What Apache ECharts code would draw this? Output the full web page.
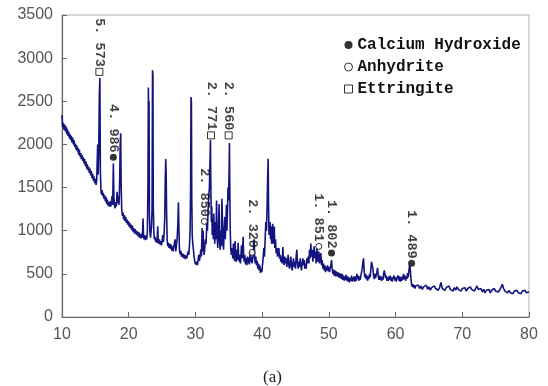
<!DOCTYPE html>
<html><head><meta charset="utf-8">
<script src="https://cdn.jsdelivr.net/npm/echarts/dist/echarts.min.js"></script>
<style>html,body{margin:0;padding:0;background:#fff}#c{width:548px;height:386px}</style>
</head><body><div id="c"></div>
<script>
// 2-theta (deg) / intensity (counts)
const pattern = [
[10.0,2340],[10.1,2200],[10.2,2250],[10.3,2170],[10.4,2230],[10.5,2150],[10.6,2210],[10.7,2120],[10.8,2180],[10.9,2100],
[11.0,2150],[11.1,2070],[11.2,2120],[11.3,2050],[11.4,2100],[11.5,2020],[11.6,2080],[11.7,2000],[11.8,2050],[11.9,1970],
[12.0,2010],[12.1,1940],[12.2,1990],[12.3,1920],[12.4,1960],[12.5,1880],[12.6,1940],[12.7,1860],[12.8,1900],[12.9,1830],
[13.0,1880],[13.1,1810],[13.2,1850],[13.3,1780],[13.4,1830],[13.5,1750],[13.6,1800],[13.7,1720],[13.8,1770],[13.9,1700],
[14.0,1740],[14.1,1670],[14.2,1720],[14.3,1640],[14.4,1690],[14.5,1610],[14.6,1660],[14.7,1580],[14.8,1630],[14.9,1550],
[15.0,1600],[15.1,1530],[15.2,1580],[15.3,1560],[15.35,2000],[15.42,1650],[15.5,1900],[15.6,2600],[15.68,2770],[15.75,1700],
[15.82,1500],[15.9,1420],[16.0,1470],[16.1,1400],[16.2,1440],[16.3,1370],[16.4,1410],[16.5,1340],[16.6,1390],[16.7,1310],
[16.8,1360],[16.9,1290],[17.0,1330],[17.1,1280],[17.2,1340],[17.3,1280],[17.4,1320],[17.5,1400],[17.6,1300],[17.7,1780],
[17.78,1400],[17.85,1300],[17.95,1260],[18.05,1330],[18.15,1280],[18.25,1450],[18.35,1320],[18.45,1400],[18.55,1300],[18.65,1600],
[18.72,2000],[18.8,2130],[18.87,1500],[18.95,1250],[19.05,1170],[19.15,1210],[19.25,1130],[19.35,1180],[19.45,1110],[19.55,1160],
[19.65,1090],[19.75,1130],[19.85,1070],[19.95,1110],[20.05,1050],[20.15,1090],[20.25,1030],[20.35,1070],[20.45,1010],[20.55,1060],
[20.65,990],[20.75,1030],[20.85,970],[20.95,1020],[21.05,960],[21.15,1000],[21.25,950],[21.35,990],[21.45,930],[21.55,980],
[21.65,920],[21.75,960],[21.85,910],[21.95,970],[22.05,920],[22.15,1140],[22.22,940],[22.3,900],[22.4,950],[22.5,890],
[22.6,940],[22.7,900],[22.8,1000],[22.88,1500],[22.95,2660],[23.0,2200],[23.05,2500],[23.1,1200],[23.18,980],[23.26,920],
[23.34,980],[23.42,1050],[23.5,1250],[23.57,2860],[23.63,2800],[23.68,1300],[23.76,1000],[23.85,900],[23.95,930],[24.05,870],
[24.15,910],[24.25,860],[24.35,1050],[24.42,880],[24.5,850],[24.6,900],[24.7,840],[24.8,880],[24.9,830],[25.0,870],
[25.1,950],[25.2,870],[25.3,960],[25.4,1150],[25.48,1600],[25.55,1830],[25.62,1650],[25.68,1200],[25.76,900],[25.85,820],
[25.95,860],[26.05,800],[26.15,850],[26.25,790],[26.35,840],[26.45,770],[26.55,820],[26.65,760],[26.75,810],[26.85,800],
[26.95,900],[27.05,760],[27.15,830],[27.25,900],[27.35,1050],[27.45,1330],[27.52,1050],[27.6,780],[27.7,730],[27.8,770],
[27.9,700],[28.0,740],[28.1,690],[28.2,730],[28.3,680],[28.4,720],[28.5,670],[28.6,710],[28.7,680],[28.8,720],
[28.9,760],[29.0,720],[29.1,820],[29.2,1000],[29.28,1500],[29.34,2550],[29.4,2480],[29.45,1400],[29.52,950],[29.6,850],
[29.7,780],[29.8,700],[29.9,650],[30.0,610],[30.1,590],[30.2,640],[30.3,600],[30.4,660],[30.5,720],[30.6,650],
[30.7,700],[30.8,780],[30.9,700],[31.0,1030],[31.07,760],[31.15,1000],[31.22,800],[31.3,720],[31.4,800],[31.5,900],
[31.6,850],[31.7,1100],[31.8,1000],[31.9,1250],[32.0,1400],[32.1,1500],[32.18,1800],[32.25,2050],[32.3,1600],[32.38,1100],
[32.45,1280],[32.52,950],[32.6,1150],[32.68,900],[32.75,1200],[32.82,1000],[32.9,850],[33.0,1100],[33.08,900],[33.17,1350],
[33.25,950],[33.35,800],[33.45,1000],[33.55,1310],[33.62,900],[33.7,780],[33.8,1000],[33.88,820],[33.97,1370],[34.05,1100],
[34.13,850],[34.22,780],[34.3,1000],[34.4,1160],[34.48,900],[34.56,1100],[34.65,1300],[34.72,1000],[34.8,1200],[34.88,1500],
[34.95,1350],[35.05,1700],[35.1,2015],[35.15,1500],[35.22,1000],[35.3,780],[35.4,720],[35.5,800],[35.6,680],[35.7,850],
[35.78,700],[35.87,650],[35.95,880],[36.03,690],[36.12,640],[36.2,780],[36.3,660],[36.4,860],[36.48,700],[36.57,640],
[36.65,720],[36.74,620],[36.82,700],[36.9,830],[36.98,680],[37.06,760],[37.15,930],[37.23,700],[37.32,640],[37.4,720],
[37.5,610],[37.6,680],[37.7,600],[37.8,700],[37.9,620],[38.0,690],[38.1,610],[38.2,760],[38.3,640],[38.4,700],
[38.5,620],[38.6,680],[38.7,760],[38.8,900],[38.88,700],[38.96,620],[39.05,700],[39.15,600],[39.25,650],[39.35,560],
[39.45,620],[39.55,540],[39.65,600],[39.75,510],[39.85,560],[39.95,520],[40.05,600],[40.15,680],[40.25,800],[40.35,700],
[40.45,900],[40.55,1100],[40.65,1000],[40.75,1300],[40.82,1600],[40.9,1835],[40.96,1300],[41.03,950],[41.1,1000],[41.18,1100],
[41.26,900],[41.34,1050],[41.42,850],[41.5,1000],[41.58,1080],[41.66,850],[41.74,1000],[41.82,1050],[41.9,800],[42.0,900],
[42.1,740],[42.2,800],[42.3,700],[42.4,760],[42.5,800],[42.6,680],[42.7,720],[42.8,640],[42.9,700],[43.0,620],
[43.1,810],[43.2,650],[43.3,600],[43.4,700],[43.5,620],[43.6,680],[43.7,580],[43.8,650],[43.9,720],[44.0,600],
[44.1,560],[44.2,640],[44.3,700],[44.4,580],[44.5,540],[44.6,620],[44.7,680],[44.8,580],[44.9,640],[45.0,560],
[45.1,700],[45.2,780],[45.3,620],[45.4,560],[45.5,640],[45.6,580],[45.7,680],[45.8,600],[45.9,540],[46.0,620],
[46.1,680],[46.2,600],[46.3,660],[46.4,560],[46.5,620],[46.6,560],[46.7,680],[46.8,620],[46.9,700],[47.0,620],
[47.1,780],[47.2,680],[47.3,850],[47.4,700],[47.5,780],[47.6,640],[47.7,740],[47.8,820],[47.9,680],[48.0,760],
[48.1,620],[48.2,800],[48.3,700],[48.4,640],[48.5,760],[48.6,620],[48.7,700],[48.8,740],[48.9,600],[49.0,660],
[49.1,560],[49.2,620],[49.3,540],[49.4,600],[49.5,520],[49.6,580],[49.7,540],[49.8,600],[49.9,530],[50.0,580],
[50.1,520],[50.2,570],[50.3,600],[50.4,660],[50.5,560],[50.6,500],[50.7,550],[50.8,480],[50.9,540],[51.0,470],
[51.1,530],[51.2,470],[51.3,520],[51.4,540],[51.5,460],[51.6,510],[51.7,450],[51.8,500],[51.9,440],[52.0,500],
[52.1,430],[52.2,480],[52.3,420],[52.4,470],[52.5,430],[52.6,490],[52.7,420],[52.8,470],[52.9,410],[53.0,460],
[53.1,400],[53.2,450],[53.3,420],[53.4,480],[53.5,410],[53.6,460],[53.7,420],[53.8,470],[53.9,410],[54.0,470],
[54.1,420],[54.2,500],[54.3,440],[54.4,480],[54.5,420],[54.6,470],[54.7,430],[54.8,480],[54.9,520],[55.0,560],
[55.1,640],[55.2,680],[55.3,520],[55.4,460],[55.5,500],[55.6,440],[55.7,480],[55.8,420],[55.9,470],[56.0,440],
[56.1,500],[56.2,460],[56.3,560],[56.4,640],[56.5,660],[56.6,560],[56.7,480],[56.8,440],[56.9,500],[57.0,450],
[57.1,490],[57.2,520],[57.3,570],[57.4,480],[57.5,430],[57.6,480],[57.7,430],[57.8,470],[57.9,420],[58.0,460],
[58.1,430],[58.2,490],[58.3,540],[58.4,500],[58.5,450],[58.6,480],[58.7,420],[58.8,460],[58.9,420],[59.0,470],
[59.1,430],[59.2,480],[59.3,420],[59.4,460],[59.5,410],[59.6,450],[59.7,430],[59.8,480],[59.9,420],[60.0,460],
[60.1,410],[60.2,450],[60.3,430],[60.4,480],[60.5,420],[60.6,470],[60.7,410],[60.8,460],[60.9,420],[61.0,470],
[61.1,430],[61.2,500],[61.3,440],[61.4,480],[61.5,420],[61.6,470],[61.7,440],[61.8,510],[61.9,460],[62.0,540],
[62.1,600],[62.2,560],[62.3,450],[62.4,380],[62.5,350],[62.6,380],[62.7,340],[62.8,370],[62.9,330],[63.0,360],
[63.2,340],[63.4,370],[63.6,330],[63.8,360],[64.0,320],[64.2,350],[64.4,330],[64.6,370],[64.8,320],[65.0,350],
[65.2,310],[65.4,340],[65.6,320],[65.8,360],[66.0,330],[66.2,350],[66.4,310],[66.6,340],[66.8,400],[67.0,330],
[67.2,350],[67.4,310],[67.6,340],[67.8,320],[68.0,360],[68.2,320],[68.4,340],[68.6,300],[68.8,340],[69.0,310],
[69.2,350],[69.4,320],[69.6,340],[69.8,300],[70.0,330],[70.2,310],[70.4,340],[70.6,300],[70.8,330],[71.0,310],
[71.2,350],[71.4,320],[71.6,340],[71.8,300],[72.0,330],[72.2,360],[72.4,320],[72.6,300],[72.8,330],[73.0,290],
[73.2,320],[73.4,280],[73.6,310],[73.8,290],[74.0,320],[74.2,280],[74.4,310],[74.6,290],[74.8,330],[75.0,300],
[75.2,320],[75.4,290],[75.6,310],[75.8,340],[76.0,380],[76.2,330],[76.4,300],[76.6,320],[76.8,280],[77.0,310],
[77.2,280],[77.4,300],[77.6,270],[77.8,300],[78.0,280],[78.2,310],[78.4,280],[78.6,300],[78.8,270],[79.0,300],
[79.2,280],[79.4,310],[79.6,280],[79.8,300],[80.0,290]
];

// Phase annotations: d-spacing label and marker position (2-theta, counts)
const calciumHydroxide = [
  {name:'4. 986', value:[17.7,1852]},
  {name:'1. 802', value:[50.4,741]},
  {name:'1. 489', value:[62.4,624]}
];
const anhydrite = [
  {name:'2. 850', value:[31.33,1108]},
  {name:'2. 320', value:[38.5,748]},
  {name:'1. 851', value:[48.5,818]}
];
const ettringite = [
  {name:'5. 573', value:[15.6,2841]},
  {name:'2. 771', value:[32.34,2105]},
  {name:'2. 560', value:[34.98,2105]}
];
const phaseNames = ['Calcium Hydroxide','Anhydrite','Ettringite'];
const xMin = 10, xMax = 80, xStep = 10;
const yMin = 0, yMax = 3500, yStep = 500;
const caption = '(a)';

const chart = echarts.init(document.getElementById('c'), null, {renderer:'canvas'});
const monoFont = '"Liberation Mono", "DejaVu Sans Mono", monospace';
const annLabel = {
  show:true, position:'top', distance:1, rotate:-90, align:'right', verticalAlign:'middle',
  formatter: p => p.name, fontFamily: monoFont, fontWeight:'bold', fontSize:13.5, color:'#111'
};
chart.setOption({
  animation:false,
  backgroundColor:'#fff',
  title:{text:caption, left:258, top:364, textStyle:{fontFamily:'"Liberation Serif", serif', fontSize:17, fontWeight:'normal', color:'#222'}},
  grid:{left:62, right:19, top:15, bottom:69, show:true, borderColor:'#b0b0b0', borderWidth:1},
  legend:{
    orient:'vertical', left:339, top:32, itemWidth:8, itemHeight:8, itemGap:6,
    textStyle:{fontFamily:monoFont, fontWeight:'bold', fontSize:16, color:'#111', lineHeight:15},
    data:[
      {name:phaseNames[0], icon:'circle', itemStyle:{color:'#000', borderWidth:0}},
      {name:phaseNames[1], icon:'circle', itemStyle:{color:'#fff', borderColor:'#000', borderWidth:1}},
      {name:phaseNames[2], icon:'rect', itemStyle:{color:'#fff', borderColor:'#000', borderWidth:1}}
    ]
  },
  xAxis:{type:'value', min:xMin, max:xMax, interval:xStep,
    axisLine:{lineStyle:{color:'#666', width:1.2}},
    axisTick:{inside:true, length:5, lineStyle:{color:'#666'}},
    axisLabel:{color:'#555', fontSize:16, fontFamily:'"Liberation Sans", Arial, sans-serif', margin:10, formatter: v => String(v)},
    splitLine:{show:false}},
  yAxis:{type:'value', min:yMin, max:yMax, interval:yStep,
    axisLine:{show:true, lineStyle:{color:'#666', width:1.2}},
    axisTick:{show:true, inside:true, length:5, lineStyle:{color:'#666'}},
    axisLabel:{color:'#555', fontSize:16, fontFamily:'"Liberation Sans", Arial, sans-serif', margin:9, formatter: v => String(v)},
    splitLine:{show:false}},
  series:[
    {type:'line', name:'XRD', data:pattern, symbol:'none', sampling:'none',
     lineStyle:{color:'#14147f', width:1.6}, z:2},
    {type:'scatter', name:phaseNames[0], data:calciumHydroxide, symbol:'circle', symbolSize:7,
     itemStyle:{color:'#000'}, label:annLabel, z:5},
    {type:'scatter', name:phaseNames[1], data:anhydrite, symbol:'circle', symbolSize:6,
     itemStyle:{color:'#fff', borderColor:'#000', borderWidth:1}, label:annLabel, z:5},
    {type:'scatter', name:phaseNames[2], data:ettringite, symbol:'rect', symbolSize:7,
     itemStyle:{color:'#fff', borderColor:'#000', borderWidth:1}, label:annLabel, z:5}
  ]
});
</script></body></html>
